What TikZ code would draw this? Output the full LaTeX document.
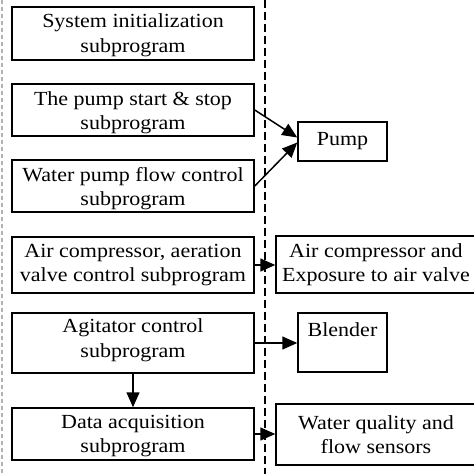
\documentclass[tikz,border=0pt]{standalone}
\usepackage{fontspec}
\setmainfont[FakeStretch=1.1]{Liberation Serif}
\usetikzlibrary{arrows.meta}
\begin{document}
\begin{tikzpicture}[x=1pt,y=-1pt,
  txt/.style={font=\fontsize{20}{24.5}\selectfont},
  box/.style={draw,line width=1.5pt,align=center,inner sep=0pt,txt},
  arr/.style={line width=1.5pt,-{Triangle[length=15pt,width=13pt]}}]
\useasboundingbox (0,0) rectangle (474,474);
\clip (0,0) rectangle (474,474);
\draw[gray!60,line width=2pt,dash pattern=on 4pt off 3pt] (2,0) -- (2,474);
\draw[line width=1.5pt,dash pattern=on 8pt off 4pt] (265,0) -- (265,474);
\node[box,minimum width=242pt,minimum height=53pt] (b1) at (133,33.5) {\rule{0pt}{17pt}System initialization\\subprogram};
\node[box,minimum width=242pt,minimum height=52pt] (b2) at (133,110) {\rule{0pt}{19.5pt}The pump start \& stop\\subprogram};
\node[box,minimum width=242pt,minimum height=52pt] (b3) at (133,186) {\rule{0pt}{19.5pt}Water pump flow control\\subprogram};
\node[box,minimum width=242pt,minimum height=56pt] (b4) at (133,265) {Air compressor, aeration\\valve control subprogram};
\node[box,minimum width=242pt,minimum height=60pt] (b5) at (133,343) {Agitator control\\subprogram\rule[-9.5pt]{0pt}{1pt}};
\node[box,minimum width=242pt,minimum height=52pt] (b6) at (133,434) {\rule{0pt}{17.7pt}Data acquisition\\subprogram};
\node[box,minimum width=89pt,minimum height=39pt] (pump) at (342.5,141.5) {Pump};
\node[box,minimum width=200pt,minimum height=57pt] (air) at (376,264.5) {Air compressor and\\Exposure to air valve};
\node[box,minimum width=89pt,minimum height=59pt,label={[txt,anchor=north,inner sep=10pt]north:Blender}] (blend) at (342.5,342.5) {};
\node[box,minimum width=200pt,minimum height=61pt] (water) at (376,434.5) {Water quality and\\flow sensors};
\draw[arr] (b2.east) -- ([yshift=4pt]pump.west);
\draw[arr] (b3.east) -- ([yshift=-1pt]pump.west);
\draw[arr] (b4.east) -- (air.west |- b4.east);
\draw[arr] (b5.east) -- (blend.west |- b5.east);
\draw[arr] (b6.east) -- (water.west |- b6.east);
\draw[arr] (b5.south) -- (b6.north);
\end{tikzpicture}
\end{document}
